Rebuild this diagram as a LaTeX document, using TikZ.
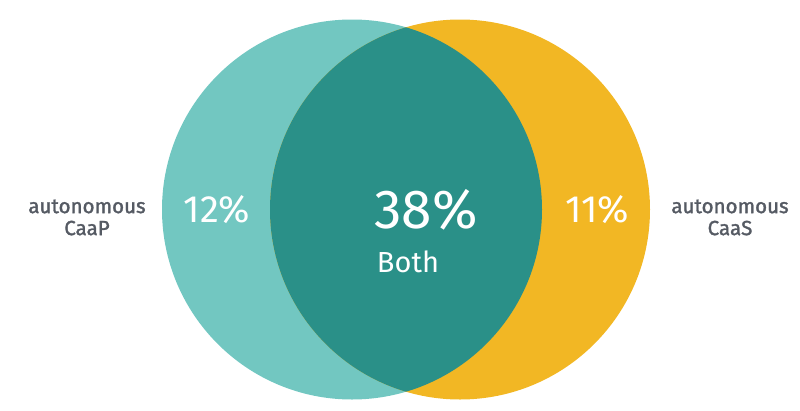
\documentclass[tikz,border=0pt]{standalone}
\usepackage{fontspec}
\setmainfont{Fira Sans}
\newfontfamily\medfont{Fira Sans}[FakeBold=1.6]
\definecolor{lteal}{HTML}{72C7C1}
\definecolor{dteal}{HTML}{2A9088}
\definecolor{gold}{HTML}{F2B724}
\definecolor{txtgray}{HTML}{555A63}
\begin{document}
\begin{tikzpicture}[x=1pt,y=-1pt,
  side/.style={text=txtgray,font=\medfont\fontsize{20.5}{22}\selectfont,align=center},
  pct/.style={text=white,font=\fontsize{38}{40}\selectfont},
]
\useasboundingbox (0,0) rectangle (800,410);
\fill[lteal] (352,209.5) circle (190);
\fill[gold] (460,209.5) circle (190);
\begin{scope}
  \clip (352,209.5) circle (190);
  \fill[dteal] (460,209.5) circle (190);
\end{scope}
\node[side] (lab1) at (87,217.5) {autonomous\\CaaP};
\node[side] (lab2) at (730,217.5) {autonomous\\CaaS};
\node[pct] (p1) at (217,210) {12\%};
\node[pct] (p2) at (597,210) {11\%};
\node[text=white,font=\fontsize{55}{58}\selectfont] (p3) at (426,210) {38\%};
\node[text=white,font=\fontsize{29}{32}\selectfont] (both) at (408,262) {Both};
\end{tikzpicture}
\end{document}
